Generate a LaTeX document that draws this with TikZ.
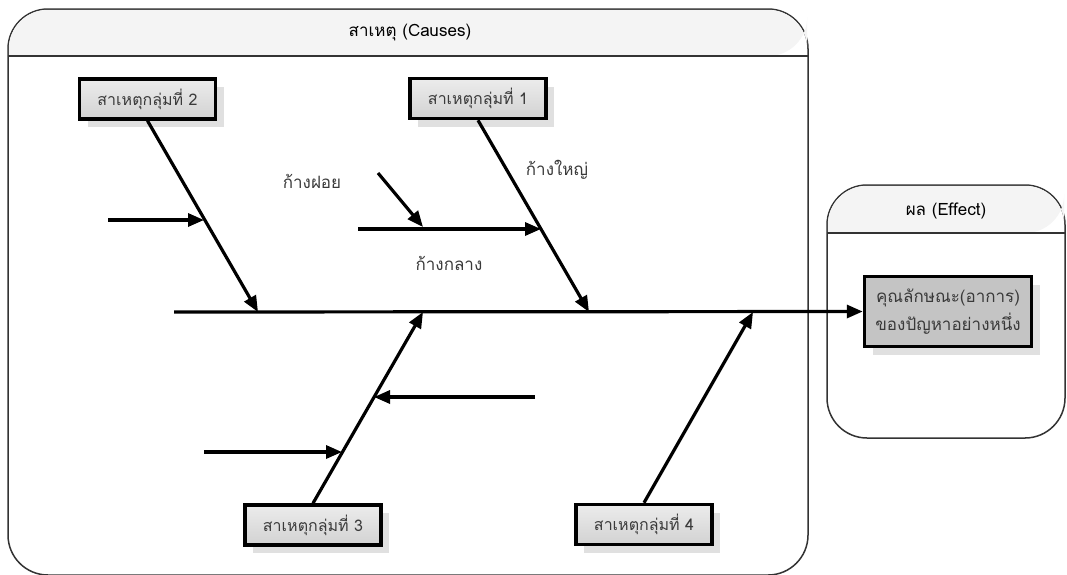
\documentclass[tikz,border=0pt]{standalone}
\usepackage{fontspec}
\setmainfont{Liberation Sans}
\newfontfamily\thai[Script=Thai]{Loma}
\usetikzlibrary{arrows.meta,shadows,calc}

\definecolor{frame}{HTML}{333333}
\definecolor{hdr}{HTML}{F4F4F4}
\definecolor{ink}{HTML}{3A3A3A}
\definecolor{boxtop}{HTML}{ECECEC}
\definecolor{boxbot}{HTML}{D2D2D2}
\definecolor{effill}{HTML}{C4C4C4}

\tikzset{
  panel/.style={draw=frame, line width=1.5pt, fill=white},
  causebox/.style={draw=black, line width=3.5pt, top color=boxtop, bottom color=boxbot,
    minimum width=136pt, minimum height=40pt, inner sep=0pt,
    font=\thai\fontsize{16}{18}\selectfont, text=ink,
    drop shadow={shadow xshift=8pt, shadow yshift=-8pt, fill=black!12, opacity=1}},
  effectbox/.style={draw=black, line width=3.5pt, fill=effill,
    minimum width=167pt, minimum height=70pt, inner sep=0pt, align=center,
    font=\thai\fontsize{17}{28}\selectfont, text=ink,
    drop shadow={shadow xshift=8pt, shadow yshift=-8pt, fill=black!12, opacity=1}},
  lbl/.style={font=\thai\fontsize{17}{19}\selectfont, text=ink},
  title/.style={font=\thai\fontsize{17}{19}\selectfont, text=black},
  bone/.style={line width=3.2pt, -{Triangle[length=16pt,width=13pt]}},
}

\begin{document}
\begin{tikzpicture}[x=1pt,y=-1pt]
\useasboundingbox (0,0) rectangle (1067,574);
\fill[white] (0,0) rectangle (1067,574);

% Causes panel
\draw[panel, rounded corners=40pt] (8,9) rectangle (808,575);
\fill[hdr] (8.8,56) [rounded corners=39pt] |- (408,9.8) -| (807.2,56) [sharp corners] -- cycle;
\draw[frame, line width=1.5pt] (8,56) -- (808,56);
\node[title] (ctitle) at (410,33) {สาเหตุ (Causes)};

% Effect panel
\draw[panel, rounded corners=40pt] (827,185) rectangle (1065,438);
\fill[hdr] (827.8,233) [rounded corners=39pt] |- (946,185.8) -| (1064.2,233) [sharp corners] -- cycle;
\draw[frame, line width=1.5pt] (827,233) -- (1065,233);
\node[title] (etitle) at (946,211) {ผล (Effect)};

% Group boxes and the effect box
\node[causebox] (g2) at (147.5,99) {สาเหตุกลุ่มที่ 2};
\node[causebox] (g1) at (478,98.5) {สาเหตุกลุ่มที่ 1};
\node[causebox] (g3) at (313,525) {สาเหตุกลุ่มที่ 3};
\node[causebox] (g4) at (644,524.5) {สาเหตุกลุ่มที่ 4};
\node[effectbox] (eff) at (948,311.5) {คุณลักษณะ(อาการ)\\ของปัญหาอย่างหนึ่ง};

% Points where the bones meet the spine
\coordinate (s2) at (258,312);
\coordinate (s3) at (423,312);
\coordinate (s1) at (589,312);
\coordinate (s4) at (753,312);
\coordinate (tail) at (174,312);

% Spine
\draw[bone] (tail) -- (eff.west);

% Main bones
\draw[bone] (g2.south) -- (s2);
\draw[bone] (g1.south) -- (s1);
\draw[bone] (g3.north) -- (s3);
\draw[bone] (g4.north) -- (s4);

% Middle and small bones
\coordinate (a2) at (108,220);
\coordinate (b2) at (204,220);
\draw[bone] (a2) -- (b2);

\coordinate (a1) at (358,229);
\coordinate (b1) at (541,229);
\draw[bone] (a1) -- (b1);

\coordinate (a0) at (378,173);
\coordinate (b0) at (423,227);
\draw[bone] (a0) -- (b0);

\coordinate (a3) at (204,452);
\coordinate (b3) at (342,452);
\draw[bone] (a3) -- (b3);

\coordinate (a5) at (535,397);
\coordinate (b5) at (374,397);
\draw[bone] (a5) -- (b5);

% Bone names
\node[lbl] (small) at (312,181) {ก้างฝอย};
\node[lbl] (major) at (557,170) {ก้างใหญ่};
\node[lbl] (middle) at (449,263) {ก้างกลาง};
\end{tikzpicture}
\end{document}
